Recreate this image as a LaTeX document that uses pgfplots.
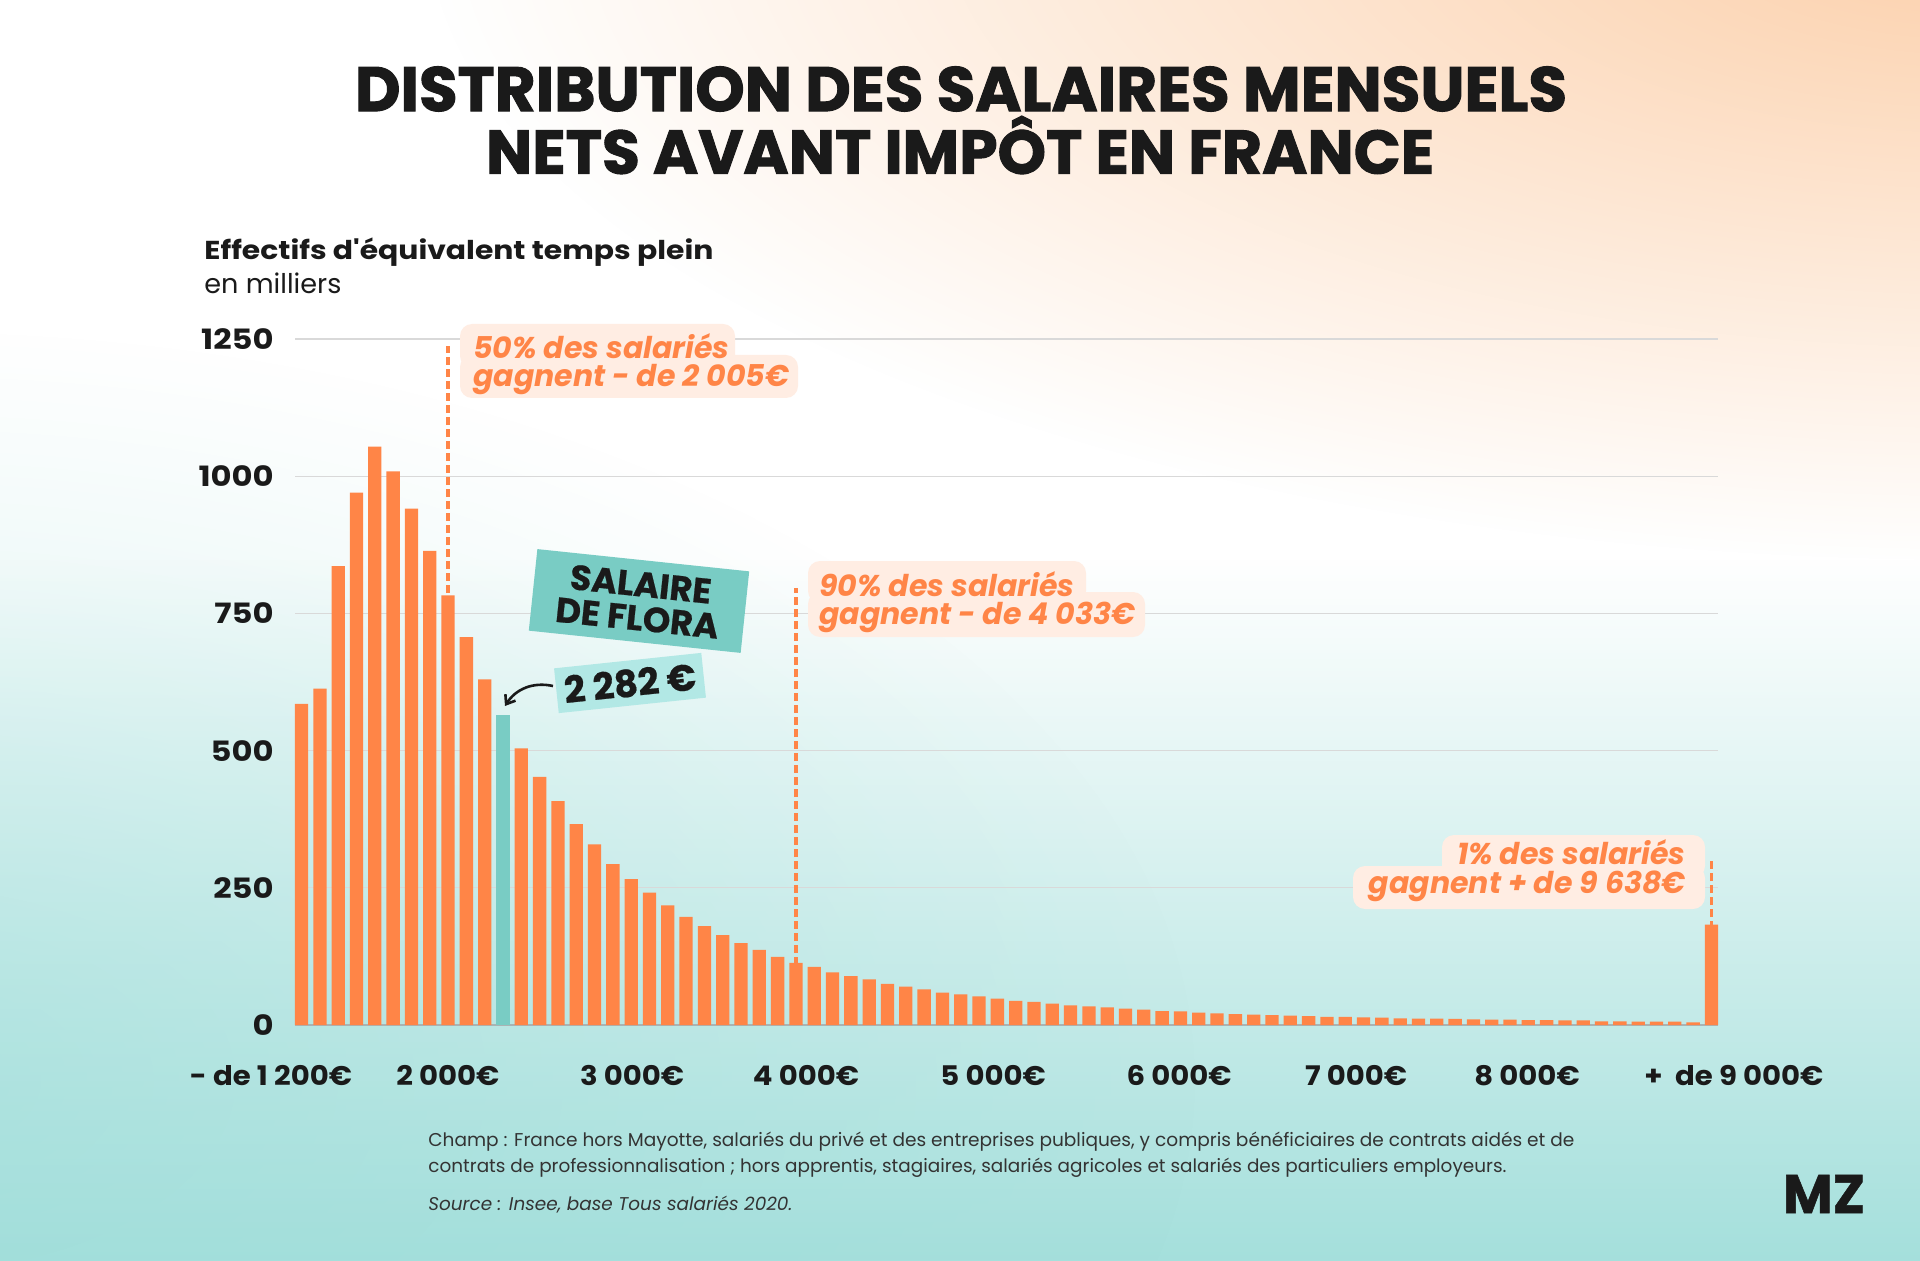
\documentclass[border=0pt]{standalone}
\usepackage{fontspec}
\setmainfont{Poppins}
\usepackage{graphicx}
\usepackage{pgfplots}
\pgfplotsset{compat=1.18}
\usetikzlibrary{arrows.meta,fadings}
\definecolor{barorange}{HTML}{FF8547}
\definecolor{barteal}{HTML}{79CCC4}
\definecolor{floralight}{HTML}{B2E8E5}
\definecolor{annotbg}{HTML}{FFEDE3}
\definecolor{gridgray}{HTML}{D9D9D9}
\definecolor{basegray}{HTML}{A9B4B4}
\definecolor{bgpeach}{HTML}{FCCFA9}
\definecolor{bgmint}{HTML}{9DDDD9}
\definecolor{titleblack}{HTML}{1A1A1A}
\definecolor{footgray}{HTML}{333333}
\tikzfading[name=radfade, inner color=transparent!0, outer color=transparent!100]
\begin{document}
\begin{tikzpicture}[x=0.5pt,y=0.5pt]
\useasboundingbox (0,0) rectangle (1920,1260);
\begin{scope}
\clip (0,0) rectangle (1920,1260);
\fill[white] (0,0) rectangle (1920,1260);
\fill[bgmint, path fading=north] (-50,-60) rectangle (1970,700);
\fill[bgmint, opacity=0.45, path fading=radfade] (-100,180) ellipse (1300 and 750);
\fill[bgpeach, path fading=radfade] (1980,1340) ellipse (1550 and 640);
\end{scope}
% title
\node[text=titleblack] at (961,1171) {\resizebox{606pt}{!}{\bfseries\addfontfeature{FakeBold=1.6} DISTRIBUTION DES SALAIRES MENSUELS}};
\node[text=titleblack] at (960,1115) {\resizebox{474pt}{!}{\bfseries\addfontfeature{FakeBold=1.6} NETS AVANT IMPÔT EN FRANCE}};
% y label
\node[anchor=base west, inner sep=0pt, text=titleblack] at (204,1000) {\resizebox{254.5pt}{!}{\bfseries\addfontfeature{FakeStretch=1.15} Effectifs d{\addfontfeature{Ligatures=TeXOff}'}équivalent temps plein}};
\node[anchor=base west, inner sep=0pt, text=titleblack] at (204,966) {\resizebox{68.5pt}{!}{en milliers}};

\begin{axis}[
  at={(147.5pt,117.5pt)}, anchor=south west,
  scale only axis, width=711.5pt, height=343pt,
  xmin=-0.36, xmax=77.36, ymin=0, ymax=1250,
  ybar, bar width=6.65pt,
  axis x line*=bottom, axis y line*=left,
  x axis line style={draw=basegray, line width=1pt},
  y axis line style={draw=none},
  major tick length=0pt,
  ytick={0,250,500,750,1000,1250},
  yticklabels={0,250,500,750,1000,1250},
  yticklabel style={anchor=east, inner sep=0pt, xshift=-10.5pt, font=\bfseries\fontsize{14}{14}\selectfont\addfontfeature{FakeStretch=1.15}, text=titleblack},
  ymajorgrids, grid style={draw=gridgray, line width=0.6pt},
  xtick={7.99,18.05,27.55,37.77,47.93,57.59,66.93},
  xticklabels={2 000€,3 000€,4 000€,5 000€,6 000€,7 000€,8 000€},
  xticklabel style={anchor=base, inner sep=0pt, yshift=-30pt, font=\bfseries\fontsize{13.5}{13.5}\selectfont\addfontfeature{FakeStretch=1.08}, text=titleblack},
  clip=false,
]
\draw[barorange, line width=1.6pt, dash pattern=on 4pt off 2pt] (axis cs:8,0) -- (axis cs:8,1238);
\draw[barorange, line width=1.6pt, dash pattern=on 4pt off 2pt] (axis cs:27,0) -- (axis cs:27,796);
\draw[barorange, line width=1.6pt, dash pattern=on 4pt off 2pt] (axis cs:77,0) -- (axis cs:77,299);
\addplot[fill=barorange, draw=none, bar shift=0pt] coordinates {
(0,585) (1,613) (2,836) (3,970) (4,1054) (5,1009) (6,941) (7,864) (8,783) (9,707)
(10,630) (12,504) (13,452) (14,408) (15,366) (16,329) (17,293) (18,266) (19,241)
(20,218) (21,197) (22,180) (23,164) (24,149) (25,137) (26,124) (27,113) (28,106) (29,96)
(30,89) (31,83) (32,75) (33,70) (34,65) (35,59) (36,56) (37,52) (38,48) (39,44)
(40,42) (41,39) (42,36) (43,34) (44,32) (45,30) (46,28) (47,25.5) (48,25) (49,22.5)
(50,21) (51,20) (52,19) (53,18) (54,17) (55,16) (56,15) (57,15) (58,14) (59,13.5)
(60,12) (61,11.5) (62,11.5) (63,11) (64,10.3) (65,9.7) (66,9.7) (67,9) (68,9) (69,8.5)
(70,8.5) (71,6.7) (72,6.7) (73,6) (74,6) (75,6) (76,5) (77,183)
};
\addplot[fill=barteal, draw=none, bar shift=0pt] coordinates {(11,564)};
\node[anchor=base, inner sep=0pt, font=\bfseries\fontsize{13.5}{13.5}\selectfont\addfontfeature{FakeStretch=1.08}, text=titleblack] at (axis cs:-1.67,0) [yshift=-30pt] {- de 1 200€};
\node[anchor=base, inner sep=0pt, font=\bfseries\fontsize{13.5}{13.5}\selectfont\addfontfeature{FakeStretch=1.08}, text=titleblack] at (axis cs:78.23,0) [yshift=-30pt] {+\ \ de 9 000€};
\end{axis}

% annotation 50%
\fill[annotbg, rounded corners=6pt] (460,936) rectangle (735,892);
\fill[annotbg, rounded corners=6pt] (460,905) rectangle (798,862);
\node[anchor=base west, inner sep=0pt, text=barorange, font=\bfseries\itshape\fontsize{15}{15}\selectfont] at (473,901) {50\% des salariés};
\node[anchor=base west, inner sep=0pt, text=barorange, font=\bfseries\itshape\fontsize{15}{15}\selectfont] at (473,873) {gagnent - de 2 005€};
% annotation 90%
\fill[annotbg, rounded corners=6pt] (808,699) rectangle (1086,657);
\fill[annotbg, rounded corners=6pt] (808,668) rectangle (1145,623);
\node[anchor=base west, inner sep=0pt, text=barorange, font=\bfseries\itshape\fontsize{15}{15}\selectfont] at (819,664) {90\% des salariés};
\node[anchor=base west, inner sep=0pt, text=barorange, font=\bfseries\itshape\fontsize{15}{15}\selectfont] at (819,636) {gagnent - de 4 033€};
% annotation 1%
\fill[annotbg, rounded corners=6pt] (1442,425) rectangle (1705,382);
\fill[annotbg, rounded corners=6pt] (1353,394) rectangle (1705,351);
\node[anchor=base east, inner sep=0pt, text=barorange, font=\bfseries\itshape\fontsize{15}{15}\selectfont] at (1686,396) {1\% des salariés};
\node[anchor=base east, inner sep=0pt, text=barorange, font=\bfseries\itshape\fontsize{15}{15}\selectfont] at (1686,367) {gagnent + de 9 638€};
% Flora
\node[rotate=-6, fill=barteal, minimum width=106.5pt, minimum height=41pt, align=center, inner sep=0pt, font=\bfseries\fontsize{17.5}{17}\selectfont\addfontfeature{FakeBold=0.6}, text=titleblack] at (639,659) {SALAIRE\\DE FLORA};
\node[rotate=6, fill=floralight, minimum width=74pt, minimum height=22.5pt, inner sep=0pt, font=\bfseries\fontsize{18.5}{18.5}\selectfont\addfontfeature{FakeBold=0.6}, text=titleblack] at (630,577) {2 282 €};
\draw[-{Straight Barb[length=4pt,width=6pt]}, line width=1.3pt, titleblack] (553,574) to[bend right=35] (505,554);
% footer
\node[anchor=base west, inner sep=0pt, text=footgray] at (428,114) {\resizebox{573pt}{!}{Champ : France hors Mayotte, salariés du privé et des entreprises publiques, y compris bénéficiaires de contrats aidés et de}};
\node[anchor=base west, inner sep=0pt, text=footgray] at (428,88) {\resizebox{539pt}{!}{contrats de professionnalisation ; hors apprentis, stagiaires, salariés agricoles et salariés des particuliers employeurs.}};
\node[anchor=base west, inner sep=0pt, text=footgray] at (428,50) {\resizebox{182pt}{!}{\itshape Source : Insee, base Tous salariés 2020.}};
% logo
\node[text=titleblack] at (1824,66) {\resizebox{41pt}{!}{\bfseries\addfontfeature{FakeBold=1} MZ}};
\end{tikzpicture}
\end{document}
